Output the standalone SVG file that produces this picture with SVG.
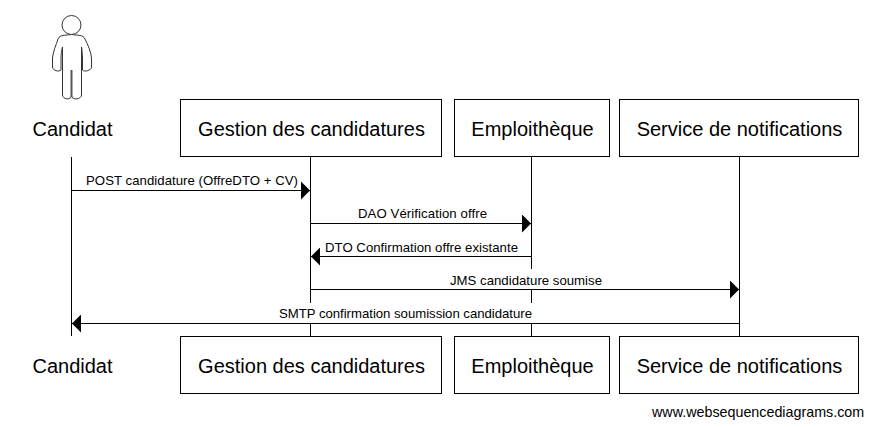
<svg xmlns="http://www.w3.org/2000/svg" width="873" height="427" viewBox="0 0 873 427">
<style>
text{font-family:"Liberation Sans",Arial,sans-serif;fill:#000}
.n{font-size:20px;text-anchor:middle}
.m{font-size:13.2px;text-anchor:middle}
.b{fill:#fff;stroke:#000;stroke-width:1}
.l{stroke:#000;stroke-width:1;fill:none}
.w{fill:#fff}
.w2{font-size:14.3px}
</style>
<defs>
<marker id="h" markerUnits="userSpaceOnUse" markerWidth="10" markerHeight="18" refX="9" refY="9" orient="auto"><path d="M0 0L9 9L0 18Z" fill="#000"/></marker>
</defs>
<rect width="873" height="427" fill="#fff"/>
<g id="connectors">
<path class="l" d="M71.500 157V336M310.500 157V337M531.500 157V337M739.500 157V337"/>
<rect class="w" x="86" y="172" width="212" height="16"/>
<rect class="w" x="358" y="205" width="129" height="16"/>
<rect class="w" x="325" y="238" width="193" height="16"/>
<rect class="w" x="450" y="269" width="152" height="20"/>
<rect class="w" x="279" y="303" width="253" height="20"/>
<path class="l" d="M72 190.500H310" marker-end="url(#h)"/>
<path class="l" d="M311 223.500H531" marker-end="url(#h)"/>
<path class="l" d="M531 256.500H311" marker-end="url(#h)"/>
<path class="l" d="M311 289.500H739" marker-end="url(#h)"/>
<path class="l" d="M739 323.500H72" marker-end="url(#h)"/>
<text class="m" x="192" y="185" textLength="212">POST candidature (OffreDTO + CV)</text>
<text class="m" x="422.500" y="218" textLength="129">DAO Vérification offre</text>
<text class="m" x="421.500" y="252" textLength="193">DTO Confirmation offre existante</text>
<text class="m" x="526" y="285" textLength="152">JMS candidature soumise</text>
<text class="m" x="405.500" y="318" textLength="253">SMTP confirmation soumission candidature</text>
</g>
<g id="candidat-top">
<circle cx="71.500" cy="25" r="9.500" fill="#fff" stroke="#333" stroke-width="1"/>
<path d="M71.500 34.500C65 35.500 60 34.500 58 39C56 45 53 52 52.500 58V67C53 71 59 72 61 70V59C61 55 61.500 50 62.500 47V95C63 100 71 100 71.500 96V80.500H71.500V96C72 100 81 100 81.500 95V47C82 50 82.500 55 82.500 59V70C84 72 91 71 91.500 67V58C91 52 88 45 85 39C83 34.500 78 35.500 71.500 34.500Z" fill="#fff" stroke="#333" stroke-width="1"/>
<path d="M71.500 70V97" stroke="#555" stroke-width="2" fill="none"/>
<text class="n" x="72.500" y="136">Candidat</text>
</g>
<g id="gestion-top"><rect class="b" x="180.500" y="99.500" width="261" height="57"/><text class="n" x="311.500" y="136">Gestion des candidatures</text></g>
<g id="emploi-top"><rect class="b" x="454.500" y="99.500" width="155" height="57"/><text class="n" x="532.500" y="136">Emploithèque</text></g>
<g id="service-top"><rect class="b" x="619.500" y="99.500" width="239" height="57"/><text class="n" x="739.500" y="136">Service de notifications</text></g>
<g id="candidat-bottom"><text class="n" x="72.500" y="373">Candidat</text></g>
<g id="gestion-bottom"><rect class="b" x="180.500" y="336.500" width="261" height="57"/><text class="n" x="311.500" y="373">Gestion des candidatures</text></g>
<g id="emploi-bottom"><rect class="b" x="454.500" y="336.500" width="155" height="57"/><text class="n" x="532.500" y="373">Emploithèque</text></g>
<g id="service-bottom"><rect class="b" x="619.500" y="336.500" width="239" height="57"/><text class="n" x="739.500" y="373">Service de notifications</text></g>
<text class="w2" x="652" y="417">www.websequencediagrams.com</text>
</svg>
